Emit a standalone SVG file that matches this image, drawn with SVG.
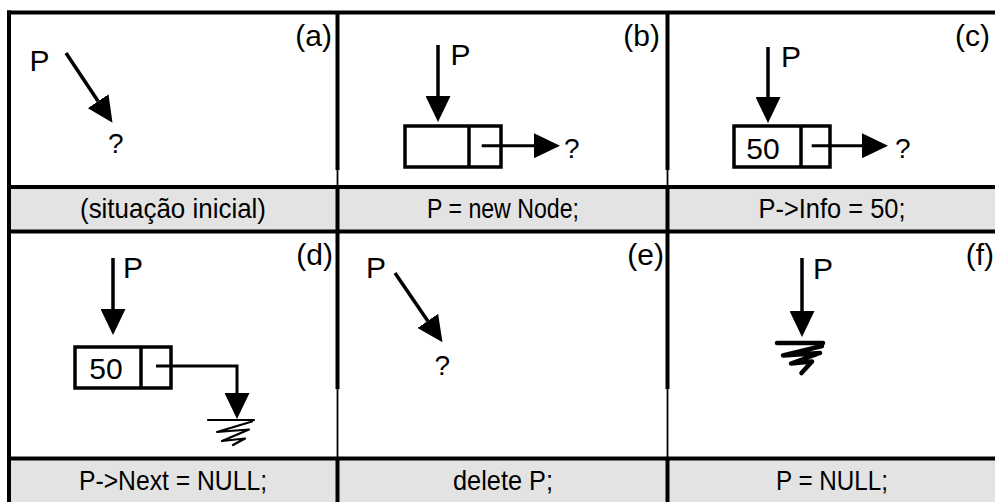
<svg xmlns="http://www.w3.org/2000/svg" width="995" height="502" viewBox="0 0 995 502">
<style>
  text { font-family: "Liberation Sans", Arial, sans-serif; fill: #000; }
  .lbl { font-size: 30px; text-anchor: end; }
  .p { font-size: 30px; }
  .q { font-size: 28px; }
  .num { font-size: 30px; text-anchor: middle; }
  .cap { font-size: 28px; text-anchor: middle; }
  .grid { stroke: #000; stroke-width: 4; fill: none; }
  .thin { stroke: #000; stroke-width: 1.8; fill: none; }
  .band { fill: #e3e3e3; }
  .shaft { stroke: #000; stroke-width: 3.5; fill: none; marker-end: url(#ah); }
  .link { stroke: #000; stroke-width: 3; fill: none; marker-end: url(#ah); }
  .box { stroke: #000; stroke-width: 3.5; fill: #fff; }
  .gnd { stroke: #000; fill: none; stroke-linejoin: round; stroke-linecap: round; }
</style>
<defs>
  <marker id="ah" markerUnits="userSpaceOnUse" viewBox="0 0 26 25" markerWidth="26" markerHeight="25" refX="0" refY="12.5" orient="auto">
    <path d="M0,0 L26,12.5 L0,25 Z" fill="#000"/>
  </marker>
</defs>
<rect width="995" height="502" fill="#fff"/>
<g id="frame">
  <rect class="band" x="9" y="187" width="986" height="44.5"/>
  <rect class="band" x="9" y="458.5" width="986" height="43.5"/>
  <line class="grid" x1="7" y1="12.5" x2="995" y2="12.5"/>
  <line class="grid" x1="9" y1="10.5" x2="9" y2="502"/>
  <line class="grid" x1="7" y1="187" x2="995" y2="187"/>
  <line class="grid" x1="7" y1="231.5" x2="995" y2="231.5"/>
  <line class="grid" x1="7" y1="458.5" x2="995" y2="458.5"/>
  <line class="grid" x1="337.5" y1="12.5" x2="337.5" y2="170"/>
  <line class="thin" x1="337.5" y1="170" x2="337.5" y2="187"/>
  <line class="grid" x1="337.5" y1="187" x2="337.5" y2="389"/>
  <line class="thin" x1="337.5" y1="389" x2="337.5" y2="458.5"/>
  <line class="grid" x1="337.5" y1="458.5" x2="337.5" y2="502"/>
  <line class="grid" x1="667.5" y1="12.5" x2="667.5" y2="170"/>
  <line class="thin" x1="667.5" y1="170" x2="667.5" y2="187"/>
  <line class="grid" x1="667.5" y1="187" x2="667.5" y2="389"/>
  <line class="thin" x1="667.5" y1="389" x2="667.5" y2="458.5"/>
  <line class="grid" x1="667.5" y1="458.5" x2="667.5" y2="502"/>
</g>
<g id="panel-a">
  <text class="lbl" x="332" y="46">(a)</text>
  <text class="p" x="29.5" y="71">P</text>
  <text class="q" x="108" y="153">?</text>
  <text class="cap" x="173" y="218" textLength="186" lengthAdjust="spacingAndGlyphs">(situação inicial)</text>
</g>
<g id="panel-b">
  <text class="lbl" x="660" y="46">(b)</text>
  <text class="p" x="450.5" y="65">P</text>
  <rect class="box" x="405" y="126" width="96" height="41"/>
  <line class="box" x1="469" y1="126" x2="469" y2="167"/>
  <text class="q" x="564" y="158">?</text>
  <text class="cap" x="503" y="218" textLength="152" lengthAdjust="spacingAndGlyphs">P = new Node;</text>
</g>
<g id="panel-c">
  <text class="lbl" x="990" y="46">(c)</text>
  <text class="p" x="781" y="66.5">P</text>
  <rect class="box" x="734" y="126" width="96" height="41"/>
  <line class="box" x1="801" y1="126" x2="801" y2="167"/>
  <text class="num" x="763" y="159">50</text>
  <text class="q" x="895" y="158">?</text>
  <text class="cap" x="832" y="218" textLength="147" lengthAdjust="spacingAndGlyphs">P-&gt;Info = 50;</text>
</g>
<g id="panel-d">
  <text class="lbl" x="333" y="264.5">(d)</text>
  <text class="p" x="123" y="278">P</text>
  <rect class="box" x="75" y="347" width="96" height="41"/>
  <line class="box" x1="141" y1="347" x2="141" y2="388"/>
  <text class="num" x="106" y="379">50</text>
  <path class="gnd" stroke-width="2.2" d="M208,420 L254,420 M252,421.5 L217,432 L249,429.5 L222,441 L245,438.5 L233,445"/>
  <text class="cap" x="173" y="490" textLength="188" lengthAdjust="spacingAndGlyphs">P-&gt;Next = NULL;</text>
</g>
<g id="panel-e">
  <text class="lbl" x="664" y="264.5">(e)</text>
  <text class="p" x="366" y="278">P</text>
  <text class="q" x="434.5" y="375">?</text>
  <text class="cap" x="503" y="490" textLength="100" lengthAdjust="spacingAndGlyphs">delete P;</text>
</g>
<g id="panel-f">
  <text class="lbl" x="994" y="264.5">(f)</text>
  <text class="p" x="813" y="279">P</text>
  <path class="gnd" stroke-width="4.5" d="M777,343 L823,343 M822,346 L783,355.5 L820,353 L791,363.5 L812,361.5 L801.5,373"/>
  <text class="cap" x="832" y="490" textLength="112" lengthAdjust="spacingAndGlyphs">P = NULL;</text>
</g>
<g id="connectors">
  <path class="shaft" d="M66,53 L98.1,101.2"/>
  <path class="shaft" d="M438,45 L438,96"/>
  <path class="link" d="M481.7,145.7 L534,145.7"/>
  <path class="shaft" d="M768,47 L768,97"/>
  <path class="link" d="M811.7,145.7 L862,145.7"/>
  <path class="shaft" d="M113,258 L113,309"/>
  <path class="link" d="M156,366 L237,366 L237,393"/>
  <path class="shaft" d="M395,273 L427.8,320.9"/>
  <path class="shaft" d="M802,258 L802,311"/>
</g>
</svg>
